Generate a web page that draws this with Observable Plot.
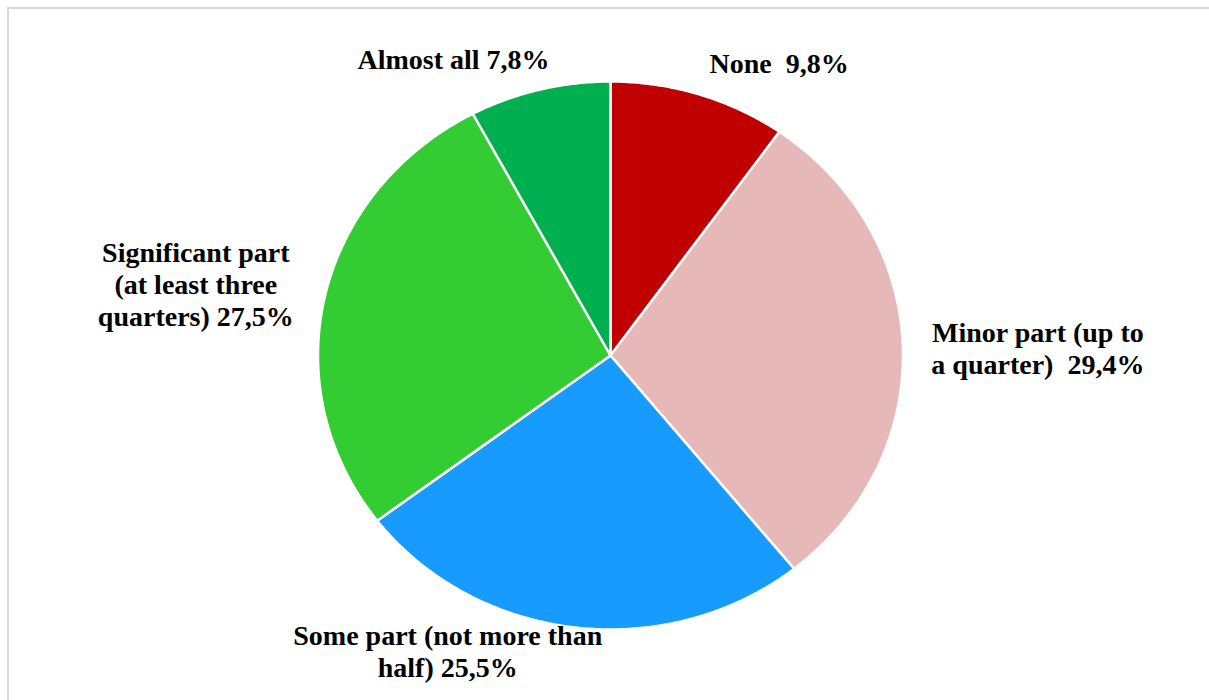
<!DOCTYPE html>
<html>
<head>
<meta charset="utf-8">
<script src="https://cdn.jsdelivr.net/npm/d3@7"></script>
<script src="https://cdn.jsdelivr.net/npm/@observablehq/plot@0.6"></script>
<style>
  html, body { margin: 0; padding: 0; background: #fff; }
  #wrap { position: relative; width: 1209px; height: 700px; overflow: hidden; }
  #frame { position: absolute; left: 7px; top: 7px; width: 1400px; height: 900px;
           border-top: 2px solid #d9d9d9; border-left: 2px solid #d9d9d9; pointer-events: none; }
  #chart { position: absolute; left: 0; top: 0; }
</style>
</head>
<body>
<div id="wrap"><div id="frame"></div><div id="chart"></div></div>
<script>
// ---- data ----
const categories = ["None", "Minor part (up to a quarter)", "Some part (not more than half)",
                    "Significant part (at least three quarters)", "Almost all"];
const values = [9.8, 29.4, 25.5, 27.5, 7.8];
const labels = ["None  9,8%", "Minor part (up to\na quarter)  29,4%", "Some part (not more than\nhalf) 25,5%",
                "Significant part\n(at least three\nquarters) 27,5%", "Almost all 7,8%"];
const colors = ["#C00000", "#E6B8B7", "#179BFF", "#33CC33", "#00B050"];

// ---- layout (label nudges in px, not data) ----
const nudges = [[80, -32], [135, 1], [-127, 23], [-129, -13], [-86, -31]];

const arcs = d3.pie().sort(null).value(d => d).startAngle(0).endAngle(2 * Math.PI)(values);

// polygon points for each slice, in unit-circle data coordinates
const pts = [];
arcs.forEach((a, i) => {
  const n = Math.max(8, Math.ceil((a.endAngle - a.startAngle) / 0.01));
  pts.push({cat: categories[i], x: 0, y: 0});
  for (let k = 0; k <= n; k++) {
    const t = a.startAngle + (a.endAngle - a.startAngle) * k / n;
    pts.push({cat: categories[i], x: Math.sin(t), y: Math.cos(t)});
  }
  pts.push({cat: categories[i], x: 0, y: 0});
});

const mids = arcs.map((a, i) => {
  const t = (a.startAngle + a.endAngle) / 2;
  return {cat: categories[i], label: labels[i], x: Math.sin(t), y: Math.cos(t)};
});

const textMarks = mids.map((m, i) => Plot.text([m], {
  x: "x", y: "y", text: "label",
  dx: nudges[i][0], dy: nudges[i][1],
  textAnchor: "middle", lineAnchor: "middle", lineHeight: 1.15,
  fontSize: 28, fontWeight: "bold", fill: "#000",
  fontFamily: "'Times New Roman', 'Liberation Serif', serif"
}));

const chart = Plot.plot({
  width: 1209,
  height: 700,
  margin: 0,
  x: {domain: [-1, 1], range: [317.5, 902.5], axis: null},
  y: {domain: [-1, 1], range: [629, 81], axis: null},
  color: {domain: categories, range: colors},
  style: {background: "transparent"},
  marks: [
    Plot.line(pts, {x: "x", y: "y", z: "cat", fill: "cat", stroke: "#fff",
                    strokeWidth: 2.5, strokeLinejoin: "round", curve: "linear"}),
    ...textMarks
  ]
});
document.getElementById("chart").appendChild(chart);
</script>
</body>
</html>
